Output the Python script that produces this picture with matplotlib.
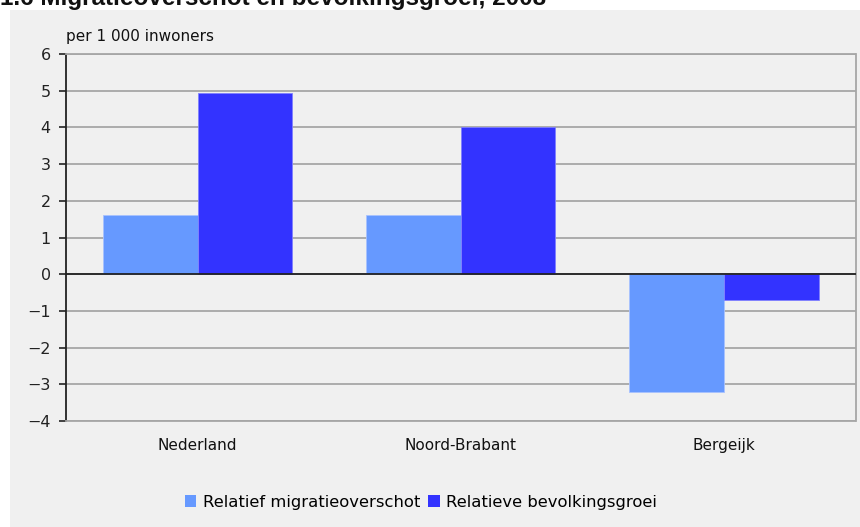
import matplotlib
matplotlib.use("Agg")
import matplotlib.pyplot as plt
import numpy as np
from matplotlib.patches import Rectangle

categories = ["Nederland", "Noord-Brabant", "Bergeijk"]
migratie = [1.6, 1.6, -3.2]
groei = [4.95, 4.0, -0.7]
series_names = ["Relatief migratieoverschot", "Relatieve bevolkingsgroei"]
yticks = [-4, -3, -2, -1, 0, 1, 2, 3, 4, 5, 6]
title = "1.6 Migratieoverschot en bevolkingsgroei, 2008"
unit = "per 1 000 inwoners"

plt.rcParams['font.family'] = ['DejaVu Sans']

W, H = 860, 527
fig = plt.figure(figsize=(W/100, H/100), dpi=100)
fig.patch.set_facecolor('white')
# gray panel
fig.patches.append(Rectangle((10/W, 0), 1 - 10/W, 1 - 10/H, transform=fig.transFigure,
                             facecolor='#f0f0f0', edgecolor='none', zorder=-10))

ax = fig.add_axes([66/W, 1 - 421/H, (855.5 - 66)/W, (421 - 54)/H])
ax.set_zorder(2)
ax.set_facecolor('#f0f0f0')
x = np.arange(len(categories))
bw = 0.36
c1 = '#6699ff'
c2 = '#3333ff'
ax.bar(x - bw/2, migratie, bw, color=c1, edgecolor='#a8c2ff', linewidth=0.6, zorder=3, label=series_names[0])
ax.bar(x + bw/2, groei, bw, color=c2, edgecolor='#8080ff', linewidth=0.6, zorder=3, label=series_names[1])
ax.set_xlim(-0.5, len(categories) - 0.5)
ax.set_ylim(-4, 6)
ax.set_yticks(yticks)
ax.set_yticklabels([str(t).replace('-', '\u2212') if t < 0 else str(t) for t in yticks], fontsize=11.5, color='#222222')
ax.yaxis.grid(True, color='#a6a6a6', linewidth=1.3, zorder=1)
ax.axhline(0, color='#222222', linewidth=1.3, zorder=4)
ax.set_xticks(x)
ax.set_xticklabels(categories, fontsize=11, color='#111111')
ax.tick_params(axis='x', length=0, pad=12)
ax.tick_params(axis='y', length=5, width=1.2, color='#222222', pad=6)
for s in ['top', 'right', 'bottom']:
    ax.spines[s].set_color('#a6a6a6')
    ax.spines[s].set_linewidth(1.3)
ax.spines['left'].set_color('#222222')
ax.spines['left'].set_linewidth(1.3)

fig.text(66/W, 1 - 37/H, unit, fontsize=11, color='#111111', va='center', ha='left')
fig.text(0, 1 - 5/H, title, fontsize=17.5, fontweight='bold', va='baseline', ha='left',
         color='#111111', family=['Liberation Sans', 'DejaVu Sans'], zorder=-5)

leg = fig.legend(loc='center', bbox_to_anchor=(421/W, 1 - 502/H), ncol=2, frameon=False,
                 fontsize=11.8, handlelength=0.7, handleheight=0.7, handletextpad=0.4,
                 columnspacing=0.5)
for h in leg.legend_handles:
    h.set_edgecolor('none')

fig.savefig('out.png', dpi=100, facecolor=fig.get_facecolor())
